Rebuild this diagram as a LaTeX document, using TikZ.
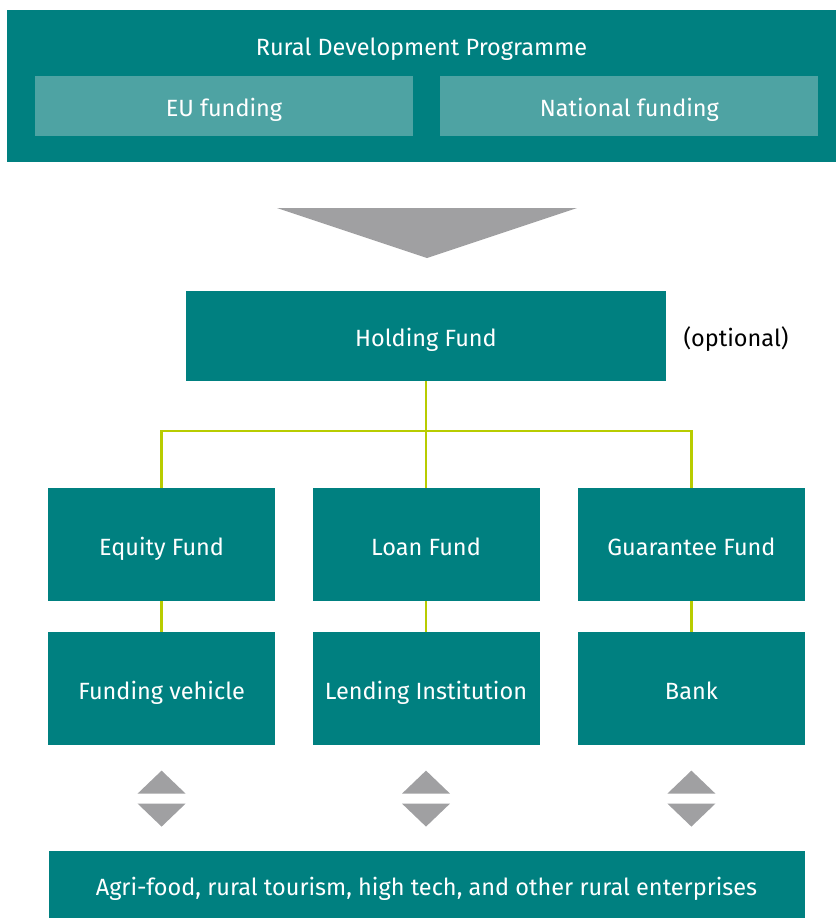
\documentclass[tikz,border=0pt]{standalone}
\usepackage{fontspec}
\setmainfont{Fira Sans}
\usepackage{xcolor}
\usetikzlibrary{positioning,calc}

\definecolor{teal}{RGB}{0,128,128}
\definecolor{lightteal}{RGB}{78,163,163}
\definecolor{arrowgrey}{RGB}{160,160,162}
\definecolor{lime}{RGB}{184,204,0}

\begin{document}
\begin{tikzpicture}[
    x=1pt, y=-1pt,
    node distance=31pt,
    label font/.style={font=\fontsize{23.5}{27}\selectfont, text height=21pt, text depth=0pt},
    panel/.style={rectangle, fill=teal, text=white, label font, align=center},
    fund/.style={panel, minimum width=227pt, minimum height=113pt},
    source/.style={rectangle, fill=lightteal, text=white, label font, minimum width=378pt, minimum height=60pt},
    link/.style={draw=lime, line width=2.6pt},
    tri/.style={fill=arrowgrey}
]
\useasboundingbox (0,0) rectangle (836,918);

% Programme and its funding sources
\node[panel, minimum width=829pt, minimum height=152pt] (rdp) at (421.5,86) {};
\node[text=white, label font] (rdptitle) at (421.5,45) {Rural Development Programme};
\node[source] (eu) at (224,106) {EU funding};
\node[source, right=27pt of eu] (national) {National funding};

% Big arrow down
\fill[tri] (277,208) -- (577,208) -- (427,258) -- cycle;

% Holding fund
\node[panel, minimum width=480pt, minimum height=90pt] (holding) at (426,336) {Holding Fund};
\node[label font, anchor=west] (optional) at (680,336) {(optional)};

% Specific funds
\node[fund] (loan) at (426,544.5) {Loan Fund};
\node[fund, left=37pt of loan] (equity) {Equity Fund};
\node[fund, right=38pt of loan] (guarantee) {Guarantee Fund};

% Intermediaries
\node[fund, below=of equity] (vehicle) {Funding vehicle};
\node[fund, below=of loan] (lending) {Lending Institution};
\node[fund, below=of guarantee] (bank) {Bank};

% Final recipients
\node[panel, minimum width=756pt, minimum height=67pt] (enterprises) at (426.5,884.5) {Agri-food, rural tourism, high tech, and other rural enterprises};

% Connectors
\coordinate (split) at (426,431);
\path[link] (holding) -- (loan);
\path[link] (split) -| (equity.north);
\path[link] (split) -| (guarantee.north);
\path[link] (equity) -- (vehicle);
\path[link] (loan) -- (lending);
\path[link] (guarantee) -- (bank);

% Two-way triangles
\foreach \n in {vehicle, lending, bank} {
    \fill[tri] ($(\n.south)+(0,25)$) -- ++(24,23) -- ++(-48,0) -- cycle;
    \fill[tri] ($(\n.south)+(0,81)$) -- ++(24,-23) -- ++(-48,0) -- cycle;
}

\end{tikzpicture}
\end{document}
